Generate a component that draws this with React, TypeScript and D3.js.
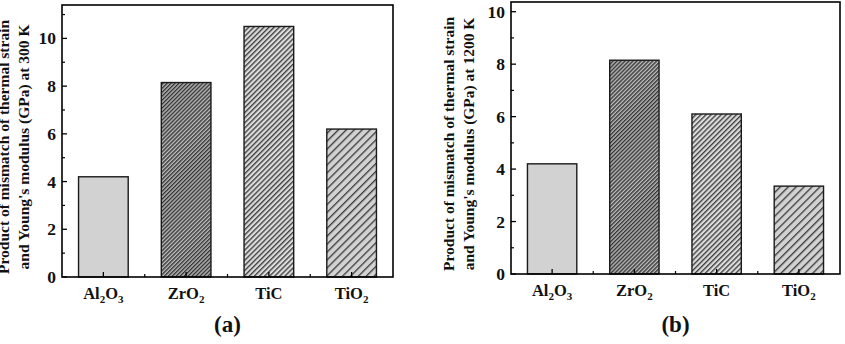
import React from "react";
import * as d3 from "d3";

const width = 845;
const height = 344;

// material labels split into [text, subscript] runs
const materials: [string, string][][] = [
  [["Al", "2"], ["O", "3"]],
  [["ZrO", "2"]],
  [["TiC", ""]],
  [["TiO", "2"]],
];
const values300K = [4.2, 8.15, 10.5, 6.2];
const values1200K = [4.2, 8.15, 6.1, 3.35];
const majorTicks = [0, 2, 4, 6, 8, 10];
const minorTicks = [1, 3, 5, 7, 9, 11];
const fills = ["#d2d2d2", "url(#hatchDense)", "url(#hatchMid)", "url(#hatchWide)"];

const font = "'Liberation Serif', 'Times New Roman', serif";

type PanelProps = {
  values: number[];
  yMax: number;
  box: { x0: number; x1: number; y0: number; y1: number };
  titleLines: string[];
  titleX: number[];
  titleY: number;
  letter: string;
};

function Panel({ values, yMax, box, titleLines, titleX, titleY, letter }: PanelProps) {
  const x = d3
    .scaleBand<number>()
    .domain(d3.range(values.length))
    .range([box.x0, box.x1])
    .paddingInner(0.4)
    .paddingOuter(0.2);
  const y = d3.scaleLinear().domain([0, yMax]).range([box.y1, box.y0]);
  const step = x.step();
  const centers = values.map((_, i) => (x(i) as number) + x.bandwidth() / 2);
  const midX = (box.x0 + box.x1) / 2;

  return (
    <g fontFamily={font} fontWeight="bold" fill="#111">
      {values.map((v, i) => (
        <rect
          key={i}
          x={x(i)}
          y={y(v)}
          width={x.bandwidth()}
          height={y(0) - y(v)}
          fill={fills[i]}
          stroke="#1a1a1a"
          strokeWidth={1.4}
        />
      ))}
      {/* y ticks */}
      {majorTicks.map((t) => (
        <g key={t}>
          <line x1={box.x0} x2={box.x0 + 5} y1={y(t)} y2={y(t)} stroke="#000" strokeWidth={1.3} />
          <text x={box.x0 - 6} y={y(t)} textAnchor="end" dominantBaseline="central" fontSize={17.5}>
            {t}
          </text>
        </g>
      ))}
      {minorTicks.filter((t) => t < yMax).map((t) => (
        <line key={t} x1={box.x0} x2={box.x0 + 3} y1={y(t)} y2={y(t)} stroke="#000" strokeWidth={1.2} />
      ))}
      {/* x ticks */}
      {centers.map((c, i) => (
        <line key={"m" + i} x1={c} x2={c} y1={box.y1} y2={box.y1 - 5} stroke="#000" strokeWidth={1.3} />
      ))}
      {centers.slice(1).map((c, i) => (
        <line key={"n" + i} x1={c - step / 2} x2={c - step / 2} y1={box.y1} y2={box.y1 - 3} stroke="#000" strokeWidth={1.2} />
      ))}
      {materials.map((runs, i) => (
        <text key={i} x={centers[i]} y={box.y1 + 22} textAnchor="middle" fontSize={16.5}>
          {runs.map(([t, s], j) => (
            <React.Fragment key={j}>
              <tspan dy={j === 0 ? 0 : -4}>{t}</tspan>
              {s && (
                <tspan fontSize={11} dy={4}>
                  {s}
                </tspan>
              )}
            </React.Fragment>
          ))}
        </text>
      ))}
      <rect
        x={box.x0}
        y={box.y0}
        width={box.x1 - box.x0}
        height={box.y1 - box.y0}
        fill="none"
        stroke="#000"
        strokeWidth={1.6}
      />
      {titleLines.map((line, i) => (
        <text
          key={i}
          transform={`translate(${titleX[i]},${titleY}) rotate(-90)`}
          textAnchor="middle"
          dominantBaseline="central"
          fontSize={15.5}
        >
          {line}
        </text>
      ))}
      <text x={midX} y={332} textAnchor="middle" fontSize={23}>
        {letter}
      </text>
    </g>
  );
}

export default function App() {
  return (
    <svg
      width={width}
      height={height}
      style={{ position: "absolute", left: 0, top: 0, background: "#fff" }}
    >
      <defs>
        <pattern id="hatchDense" width={2.8} height={10} patternUnits="userSpaceOnUse" patternTransform="rotate(45)">
          <rect width={2.8} height={10} fill="#bdbdbd" />
          <line x1={0.7} x2={0.7} y1={0} y2={10} stroke="#2a2a2a" strokeWidth={1.3} />
        </pattern>
        <pattern id="hatchMid" width={3.6} height={10} patternUnits="userSpaceOnUse" patternTransform="rotate(45)">
          <rect width={3.6} height={10} fill="#dcdcdc" />
          <line x1={0.7} x2={0.7} y1={0} y2={10} stroke="#2a2a2a" strokeWidth={1.2} />
        </pattern>
        <pattern id="hatchWide" width={5.6} height={10} patternUnits="userSpaceOnUse" patternTransform="rotate(45)">
          <rect width={5.6} height={10} fill="#d2d2d2" />
          <line x1={0.7} x2={0.7} y1={0} y2={10} stroke="#2a2a2a" strokeWidth={1.2} />
        </pattern>
      </defs>
      <Panel
        values={values300K}
        yMax={11.4}
        box={{ x0: 62, x1: 393, y0: 5, y1: 277 }}
        titleLines={["Product of mismatch of thermal strain", "and Young's modulus (GPa) at 300 K"]}
        titleX={[3, 23]}
        titleY={147}
        letter="(a)"
      />
      <Panel
        values={values1200K}
        yMax={10.37}
        box={{ x0: 511, x1: 840, y0: 2, y1: 274 }}
        titleLines={["Product of mismatch of thermal strain", "and Young's modulus (GPa) at 1200 K"]}
        titleX={[448, 468]}
        titleY={144}
        letter="(b)"
      />
    </svg>
  );
}
